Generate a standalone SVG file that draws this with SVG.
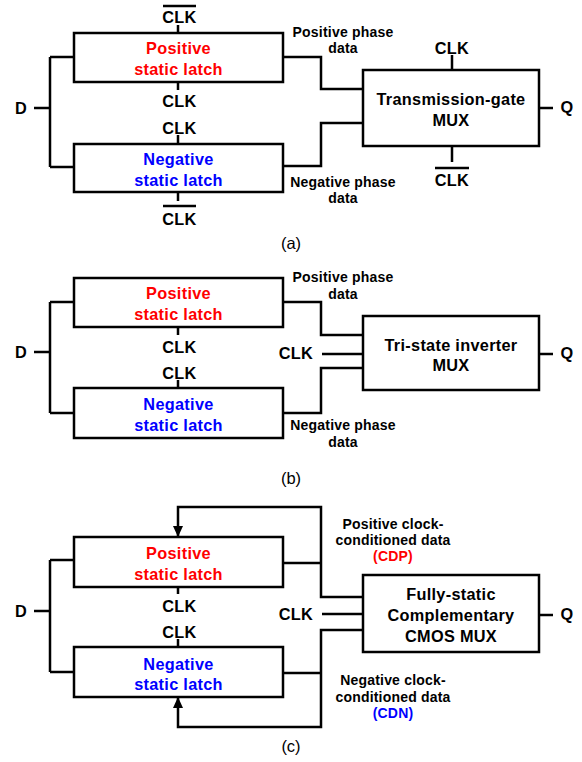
<svg xmlns="http://www.w3.org/2000/svg" width="582" height="762" viewBox="0 0 582 762">
<defs>
<style>
.box{fill:#fff;stroke:#000;stroke-width:2.5}
.w{fill:none;stroke:#000;stroke-width:2.5;stroke-linecap:butt;stroke-linejoin:miter}
.t{font-family:"Liberation Sans",Arial,sans-serif;font-weight:bold;font-size:16.3px;text-anchor:middle;fill:#000;letter-spacing:0.3px}
.s{font-family:"Liberation Sans",Arial,sans-serif;font-weight:bold;font-size:14px;text-anchor:middle;fill:#000;letter-spacing:0.2px}
.cap{font-family:"Liberation Sans",Arial,sans-serif;font-size:16.5px;text-anchor:middle;fill:#000}
.red{fill:#ff0000}
.blue{fill:#0000ff}
</style>
<marker id="arr" markerUnits="userSpaceOnUse" markerWidth="12" markerHeight="12" viewBox="0 0 12 12" refX="11" refY="6" orient="auto">
<path d="M0,1 L11,6 L0,11 Z" fill="#000"/>
</marker>
</defs>

<!-- ===== Connectors ===== -->
<g id="connectors" class="w">
<!-- panel a -->
<path d="M34,108 H50 M50,57 V167 M50,57 H74 M50,167 H74"/>
<path d="M178,25 V33 M178,82 V90 M178,135 V144 M178,192 V201"/>
<path d="M163,6 H196 M163,206 H196"/>
<path d="M283,57 H321 V89 H363"/>
<path d="M283,166 H321 V123 H363"/>
<path d="M452,55 V70 M452,146 V162 M435,168 H469"/>
<path d="M539,108 H553"/>
<!-- panel b -->
<path d="M34,352 H50 M50,302 V413 M50,302 H74 M50,413 H74"/>
<path d="M178,327 V335 M178,380 V388"/>
<path d="M283,302 H321 V335 H363"/>
<path d="M283,413 H321 V368 H363"/>
<path d="M322,354 H363"/>
<path d="M539,354 H553"/>
<!-- panel c -->
<path d="M34,611 H50 M50,560 V672 M50,560 H74 M50,672 H74"/>
<path d="M178,587 V594 M178,639 V647"/>
<path d="M363,597 H321 V507 H178 V537" marker-end="url(#arr)"/>
<path d="M283,563 H321"/>
<path d="M363,630 H321 V727 H178 V697" marker-end="url(#arr)"/>
<path d="M283,673 H321"/>
<path d="M322,614 H363"/>
<path d="M539,615 H553"/>
</g>

<!-- ===== Panel (a) ===== -->
<g id="a-pos-latch">
<rect class="box" x="74" y="33" width="209" height="49"/>
<text class="t red" x="178.5" y="54">Positive</text>
<text class="t red" x="178.5" y="75">static latch</text>
</g>
<g id="a-neg-latch">
<rect class="box" x="74" y="144" width="209" height="48"/>
<text class="t blue" x="178.5" y="165">Negative</text>
<text class="t blue" x="178.5" y="186">static latch</text>
</g>
<g id="a-mux">
<rect class="box" x="363" y="70" width="176" height="76"/>
<text class="t" x="451" y="105">Transmission-gate</text>
<text class="t" x="451" y="126">MUX</text>
</g>
<g id="a-labels">
<text class="t" x="179.5" y="23">CLK</text>
<text class="t" x="179.5" y="107">CLK</text>
<text class="t" x="179.5" y="134">CLK</text>
<text class="t" x="179.5" y="225">CLK</text>
<text class="t" x="452" y="54">CLK</text>
<text class="t" x="452" y="186">CLK</text>
<text class="t" x="21" y="114">D</text>
<text class="t" x="567" y="113">Q</text>
<text class="s" x="343" y="37">Positive phase</text>
<text class="s" x="343" y="53">data</text>
<text class="s" x="343" y="187">Negative phase</text>
<text class="s" x="343" y="203">data</text>
<text class="cap" x="291" y="249">(a)</text>
</g>

<!-- ===== Panel (b) ===== -->
<g id="b-pos-latch">
<rect class="box" x="74" y="278" width="209" height="49"/>
<text class="t red" x="178.5" y="299">Positive</text>
<text class="t red" x="178.5" y="320">static latch</text>
</g>
<g id="b-neg-latch">
<rect class="box" x="74" y="388" width="209" height="50"/>
<text class="t blue" x="178.5" y="410">Negative</text>
<text class="t blue" x="178.5" y="431">static latch</text>
</g>
<g id="b-mux">
<rect class="box" x="363" y="316" width="176" height="74"/>
<text class="t" x="451" y="351">Tri-state inverter</text>
<text class="t" x="451" y="371">MUX</text>
</g>
<g id="b-labels">
<text class="t" x="179.5" y="353">CLK</text>
<text class="t" x="179.5" y="379">CLK</text>
<text class="t" x="296" y="359">CLK</text>
<text class="t" x="21" y="358">D</text>
<text class="t" x="567" y="359">Q</text>
<text class="s" x="343" y="282">Positive phase</text>
<text class="s" x="343" y="298.5">data</text>
<text class="s" x="343" y="430">Negative phase</text>
<text class="s" x="343" y="447">data</text>
<text class="cap" x="291" y="484">(b)</text>
</g>

<!-- ===== Panel (c) ===== -->
<g id="c-pos-latch">
<rect class="box" x="74" y="537" width="209" height="50"/>
<text class="t red" x="178.5" y="559">Positive</text>
<text class="t red" x="178.5" y="580">static latch</text>
</g>
<g id="c-neg-latch">
<rect class="box" x="74" y="647" width="209" height="50"/>
<text class="t blue" x="178.5" y="670">Negative</text>
<text class="t blue" x="178.5" y="690">static latch</text>
</g>
<g id="c-mux">
<rect class="box" x="363" y="575" width="176" height="77"/>
<text class="t" x="451" y="600">Fully-static</text>
<text class="t" x="451" y="621">Complementary</text>
<text class="t" x="451" y="642">CMOS MUX</text>
</g>
<g id="c-labels">
<text class="t" x="179.5" y="612">CLK</text>
<text class="t" x="179.5" y="638">CLK</text>
<text class="t" x="296" y="620">CLK</text>
<text class="t" x="21" y="617">D</text>
<text class="t" x="567" y="620">Q</text>
<text class="s" x="393" y="529">Positive clock-</text>
<text class="s" x="393" y="545">conditioned data</text>
<text class="s red" x="393" y="561">(CDP)</text>
<text class="s" x="393" y="685">Negative clock-</text>
<text class="s" x="393" y="702">conditioned data</text>
<text class="s blue" x="393" y="718">(CDN)</text>
<text class="cap" x="291" y="752">(c)</text>
</g>
</svg>
